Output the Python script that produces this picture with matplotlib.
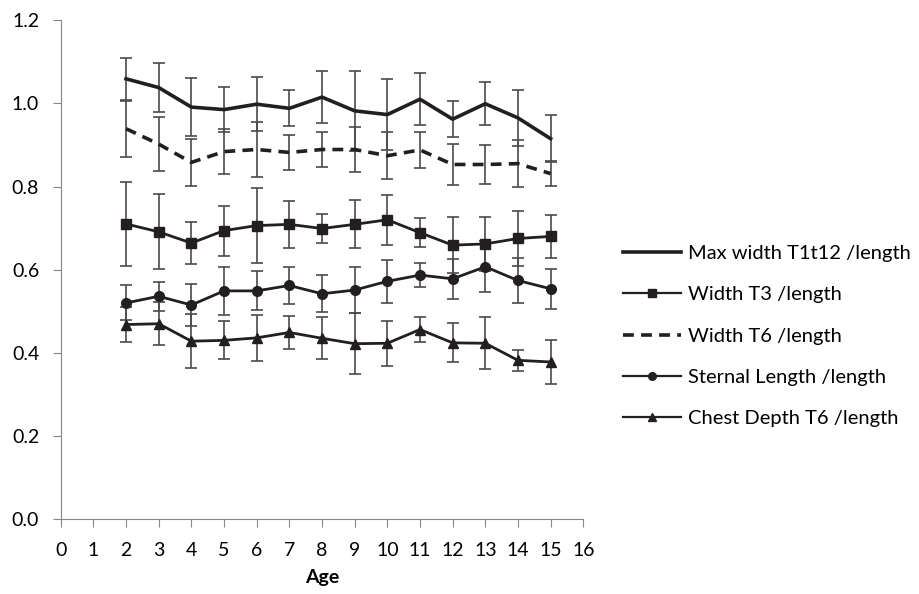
import numpy as np
import matplotlib.pyplot as plt
from matplotlib.lines import Line2D

plt.rcParams['font.family'] = ['Lato', 'DejaVu Sans']

age = [2, 3, 4, 5, 6, 7, 8, 9, 10, 11, 12, 13, 14, 15]

max_width = [1.059, 1.038, 0.991, 0.985, 0.998, 0.988, 1.015, 0.982, 0.973, 1.010, 0.962, 0.999, 0.965, 0.915]
max_width_err = [0.050, 0.058, 0.069, 0.055, 0.065, 0.043, 0.063, 0.096, 0.086, 0.063, 0.043, 0.052, 0.067, 0.057]

width_t3 = [0.710, 0.691, 0.664, 0.694, 0.706, 0.709, 0.699, 0.709, 0.720, 0.689, 0.659, 0.662, 0.675, 0.680]
width_t3_err = [0.100, 0.090, 0.051, 0.060, 0.090, 0.056, 0.034, 0.058, 0.060, 0.035, 0.068, 0.064, 0.065, 0.052]

width_t6 = [0.939, 0.902, 0.858, 0.884, 0.889, 0.882, 0.889, 0.889, 0.874, 0.888, 0.853, 0.853, 0.855, 0.831]
width_t6_err = [0.067, 0.065, 0.057, 0.055, 0.065, 0.043, 0.041, 0.053, 0.056, 0.043, 0.050, 0.048, 0.057, 0.030]

sternal = [0.520, 0.536, 0.515, 0.549, 0.549, 0.562, 0.542, 0.551, 0.572, 0.587, 0.578, 0.607, 0.574, 0.554]
sternal_err = [0.042, 0.035, 0.051, 0.058, 0.047, 0.044, 0.044, 0.055, 0.051, 0.028, 0.048, 0.061, 0.055, 0.048]

chest = [0.468, 0.470, 0.428, 0.430, 0.436, 0.449, 0.435, 0.422, 0.423, 0.456, 0.424, 0.423, 0.382, 0.378]
chest_err = [0.042, 0.052, 0.065, 0.046, 0.056, 0.040, 0.050, 0.074, 0.054, 0.031, 0.047, 0.062, 0.026, 0.052]

series = [
    ('Max width T1t12 /length', max_width, max_width_err, '-', None, 2.6),
    ('Width T3 /length', width_t3, width_t3_err, '-', 's', 2.0),
    ('Width T6 /length', width_t6, width_t6_err, (0, (3, 2)), None, 2.6),
    ('Sternal Length /length', sternal, sternal_err, '-', 'o', 2.0),
    ('Chest Depth T6 /length', chest, chest_err, '-', '^', 2.0),
]

fig = plt.figure(figsize=(9.2, 5.94), dpi=100)
ax = fig.add_axes([0.066, 0.126, 0.568, 0.84])

ecol = '#4a4a4a'
lc = '#231f20'

handles = []
for name, vals, errs, ls, mk, lw in series:
    ax.errorbar(age, vals, yerr=errs, color=lc, lw=lw, ls=ls, marker=mk, ms=7,
                ecolor=ecol, elinewidth=1.2, capsize=4, capthick=1.2)
    handles.append(Line2D([], [], color=lc, lw=lw if mk is None else 1.6, ls=ls,
                          marker=mk, ms=5.5, label=name))

ax.set_xlim(0, 16)
ax.set_ylim(0, 1.2)
ax.set_xticks(range(0, 17))
ax.set_yticks(np.arange(0, 1.21, 0.2))
ax.set_yticklabels(['%.1f' % v for v in np.arange(0, 1.21, 0.2)])
ax.tick_params(labelsize=14, color='#868686', length=5.5, direction='out')
ax.tick_params(axis='y', pad=10)
ax.tick_params(axis='x', pad=11)
for s in ['top', 'right']:
    ax.spines[s].set_visible(False)
for s in ['left', 'bottom']:
    ax.spines[s].set_color('#868686')
ax.set_xlabel('Age', fontsize=14, fontweight='bold', labelpad=7)

fig.legend(handles=handles, loc='center left', bbox_to_anchor=(0.677, 0.434),
           frameon=False, fontsize=14.5, handlelength=2.9, labelspacing=1.2,
           handletextpad=0.35, borderpad=0, borderaxespad=0)

fig.savefig('out.png', dpi=100)
